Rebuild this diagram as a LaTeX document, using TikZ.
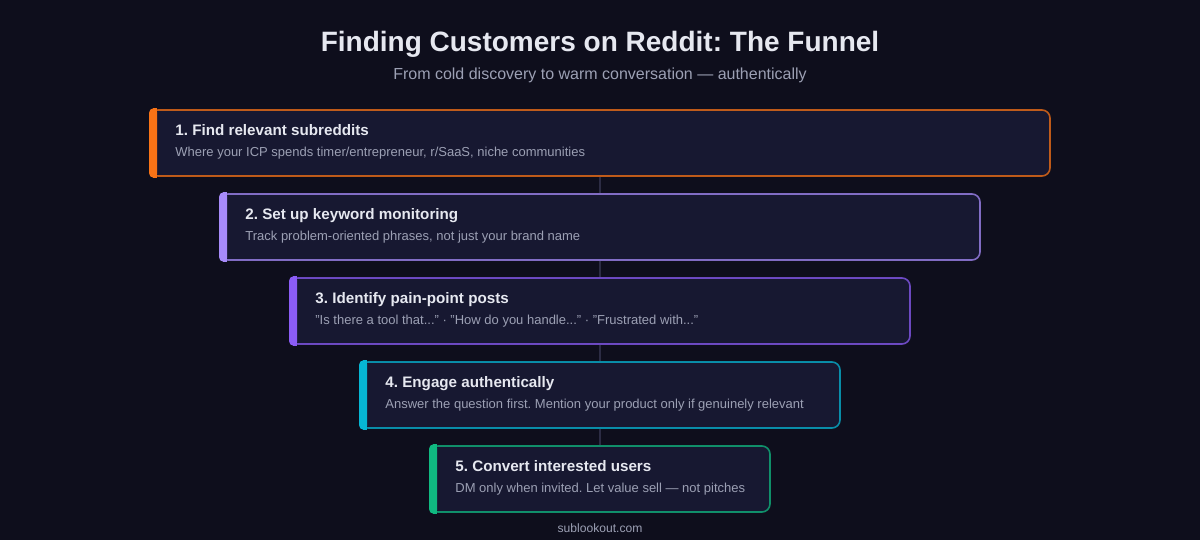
\documentclass[tikz,border=0pt]{standalone}
\usepackage{fontspec}
\setmainfont{Liberation Sans}
\frenchspacing
\definecolor{bgc}{HTML}{0E0E1C}
\definecolor{boxfill}{HTML}{171831}
\definecolor{conn}{HTML}{2C2C44}
\definecolor{titlec}{HTML}{E6E8F0}
\definecolor{subc}{HTML}{9CA0B4}
\definecolor{c1}{HTML}{F97316}
\definecolor{c2}{HTML}{A78BFA}
\definecolor{c3}{HTML}{8B5CF6}
\definecolor{c4}{HTML}{06B6D4}
\definecolor{c5}{HTML}{10B981}
\tikzset{
  stagebox/.style={draw=#1, draw opacity=0.75, line width=1.6pt, fill=boxfill, rounded corners=8pt,
    minimum width=900pt, minimum height=66pt, inner sep=0pt},
  connline/.style={draw=conn, line width=1.6pt},
  headtxt/.style={anchor=base west, inner sep=0pt, text=titlec, font=\fontsize{15.2pt}{17pt}\selectfont\bfseries},
  desctxt/.style={anchor=base west, inner sep=0pt, text=subc, font=\fontsize{13pt}{15pt}\selectfont},
}
\begin{document}
\begin{tikzpicture}[x=1pt,y=-1pt]
\fill[bgc] (0,0) rectangle (1200,540);
\useasboundingbox (0,0) rectangle (1200,540);
\node[anchor=base, inner sep=0pt, text=titlec, font=\fontsize{28pt}{32pt}\selectfont\bfseries] (title) at (600,52) {Finding Customers on Reddit: The Funnel};
\node[anchor=base, inner sep=0pt, text=subc, font=\fontsize{16pt}{19pt}\selectfont] (subtitle) at (600,80) {From cold discovery to warm conversation — authentically};

\node[stagebox=c1, minimum width=900pt] (b1) at (600,143) {};
\node[stagebox=c2, minimum width=760pt] (b2) at (600,227) {};
\node[stagebox=c3, minimum width=620pt] (b3) at (600,311) {};
\node[stagebox=c4, minimum width=480pt] (b4) at (600,395) {};
\node[stagebox=c5, minimum width=340pt] (b5) at (600,479) {};

\draw[connline] (b1.south) -- (b2.north);
\draw[connline] (b2.south) -- (b3.north);
\draw[connline] (b3.south) -- (b4.north);
\draw[connline] (b4.south) -- (b5.north);

\foreach \b/\c in {b1/c1,b2/c2,b3/c3,b4/c4,b5/c5}{
  \fill[\c, rounded corners=4pt] ([yshift=0.8pt]\b.north west) rectangle ([xshift=8pt,yshift=-0.8pt]\b.south west);
  \fill[\c] ([xshift=4pt,yshift=0.8pt]\b.north west) rectangle ([xshift=8pt,yshift=-0.8pt]\b.south west);
}

\node[headtxt] (h1) at ([xshift=26pt,yshift=-26pt]b1.north west) {1. Find relevant subreddits};
\node[desctxt] (d1) at ([xshift=26pt,yshift=-47pt]b1.north west) {Where your ICP spends timer/entrepreneur, r/SaaS, niche communities};
\node[headtxt] (h2) at ([xshift=26pt,yshift=-26pt]b2.north west) {2. Set up keyword monitoring};
\node[desctxt] (d2) at ([xshift=26pt,yshift=-47pt]b2.north west) {Track problem-oriented phrases, not just your brand name};
\node[headtxt] (h3) at ([xshift=26pt,yshift=-26pt]b3.north west) {3. Identify pain-point posts};
\node[desctxt] (d3) at ([xshift=26pt,yshift=-47pt]b3.north west) {"Is there a tool that..." · "How do you handle..." · "Frustrated with..."};
\node[headtxt] (h4) at ([xshift=26pt,yshift=-26pt]b4.north west) {4. Engage authentically};
\node[desctxt] (d4) at ([xshift=26pt,yshift=-47pt]b4.north west) {Answer the question first. Mention your product only if genuinely relevant};
\node[headtxt] (h5) at ([xshift=26pt,yshift=-26pt]b5.north west) {5. Convert interested users};
\node[desctxt] (d5) at ([xshift=26pt,yshift=-47pt]b5.north west) {DM only when invited. Let value sell — not pitches};

\node[anchor=base, inner sep=0pt, text=subc, font=\fontsize{12.1pt}{14pt}\selectfont] (footer) at (600,532) {sublookout.com};
\end{tikzpicture}
\end{document}
